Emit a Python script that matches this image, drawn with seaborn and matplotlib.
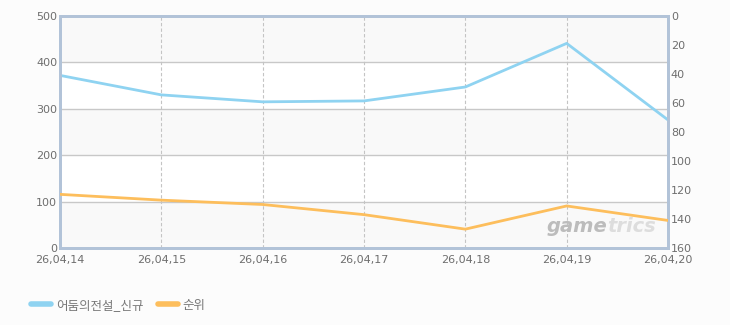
import matplotlib
matplotlib.use("Agg")
import matplotlib.pyplot as plt
import seaborn as sns
import pandas as pd
from matplotlib.lines import Line2D

dates = ["26,04,14", "26,04,15", "26,04,16", "26,04,17", "26,04,18", "26,04,19", "26,04,20"]
new_users = [372, 330, 315, 317, 347, 441, 276]
rank = [123, 127, 130, 137, 147, 131, 141]
series_names = ["어둠의전설_신규", "순위"]
left_ticks = [0, 100, 200, 300, 400, 500]
right_ticks = [0, 20, 40, 60, 80, 100, 120, 140, 160]

sns.set_theme(style="white")
plt.rcParams['font.family'] = ['Noto Sans CJK KR', 'DejaVu Sans']

BLUE = "#8fd3f1"
ORANGE = "#fdbe5c"
SPINE = "#b2c3d8"
TXT = "#6e6e6e"
BG = "#fcfcfc"

df = pd.DataFrame({"x": range(len(dates)), "date": dates, "new": new_users, "rank": rank})

fig = plt.figure(figsize=(7.3, 3.25), dpi=100, facecolor=BG)
ax = fig.add_axes([60/730, 77/325, 608/730, 232/325])
ax.set_facecolor("white")

for lo in (0, 200, 400):
    ax.axhspan(lo, lo + 100, color="#f9f9f9", zorder=0, lw=0)
for v in (100, 200, 300, 400):
    ax.axhline(v, color="#c8c8c8", lw=1, zorder=1)
for i in range(1, len(dates) - 1):
    ax.axvline(i, color="#c4c4c4", lw=0.8, ls=(0, (3, 2)), zorder=1)

sns.lineplot(data=df, x="x", y="new", ax=ax, color=BLUE, lw=2, zorder=3, legend=False)
ax.set_xlim(0, len(dates) - 1)
ax.set_ylim(0, 500)
ax.set_yticks(left_ticks)
ax.set_xticks(range(len(dates)))
ax.set_xticklabels(dates)
ax.set_xlabel("")
ax.set_ylabel("")

ax2 = ax.twinx()
sns.lineplot(data=df, x="x", y="rank", ax=ax2, color=ORANGE, lw=2, zorder=3, legend=False)
ax2.set_ylim(160, 0)
ax2.set_yticks(right_ticks)
ax2.set_ylabel("")

for a in (ax, ax2):
    for s in a.spines.values():
        s.set_color(SPINE)
        s.set_linewidth(2)
    a.tick_params(length=0, labelsize=8, colors=TXT, pad=2)
    for lab in a.get_yticklabels() + a.get_xticklabels():
        lab.set_fontfamily(['DejaVu Sans'])

ax.tick_params(axis="x", pad=5)

# watermark
ax.text(0.90, 0.05, "game", transform=ax.transAxes, ha="right", va="bottom",
        fontsize=14, fontstyle="italic", fontweight="bold", color="#bcbcbc",
        family=['DejaVu Sans'], zorder=2)
ax.text(0.90, 0.05, "trics", transform=ax.transAxes, ha="left", va="bottom",
        fontsize=14, fontstyle="italic", fontweight="bold", color="#dddddd",
        family=['DejaVu Sans'], zorder=2)

handles = [Line2D([0], [0], color=BLUE, lw=4), Line2D([0], [0], color=ORANGE, lw=4)]
fig.legend(handles, series_names, loc="lower left", bbox_to_anchor=(20/730, 2/325),
           ncol=2, frameon=False, fontsize=9, handlelength=1.6, handletextpad=0.4,
           columnspacing=1.1, labelcolor="#777777")

fig.savefig("out.png", dpi=100, facecolor=BG)
